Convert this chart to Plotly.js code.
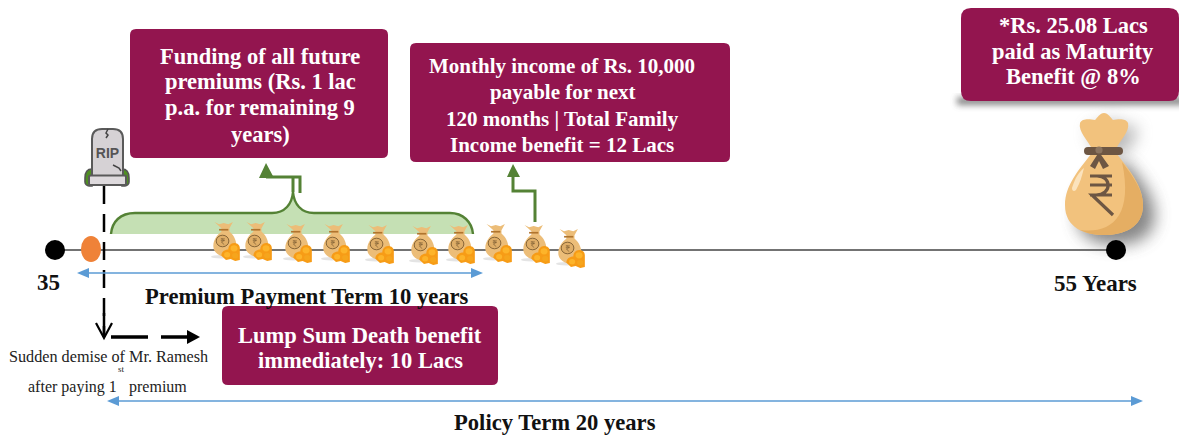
<!DOCTYPE html>
<html><head><meta charset="utf-8">
<script src="https://cdn.plot.ly/plotly-3.0.1.min.js"></script>
<style>html,body{margin:0;padding:0;background:#fff}#c{width:1179px;height:435px}</style></head>
<body><div id="c"></div>
<script>
const boxX=[130,410,961,222], boxY=[29,43,8,306], boxW=[258,320,218,276], boxH=[129,119,93,79];
const boxLines=[
 ["Funding of all future","premiums (Rs. 1 lac","p.a. for remaining 9","years)"],
 ["Monthly income of Rs. 10,000","payable for next","120 months | Total Family","Income benefit = 12 Lacs"],
 ["*Rs. 25.08 Lacs","paid as Maturity","Benefit @ 8%"],
 ["Lump Sum Death benefit","immediately: 10 Lacs"]];
const boxLineY=[[56,81,107,134],[66,92,119,145],[25,51,77],[335,360]];
const boxTextX=[260,562,1073,360];
const boxFont=[22.5,21,22.5,22.5];
const labels=["35","Premium Payment Term 10 years","55 Years","Policy Term 20 years"];
const labelX=[48,307,1095,555], labelY=[282,296,283,422];
const labelFont=[23,22.6,23,22.6];
const noteLines=["Sudden demise of Mr. Ramesh","after paying 1","st","premium"];
const noteX=[108,72.5,121,158], noteY=[357,387,369,387], noteSize=[16.2,16,9,16];
const bagX=[225,257,297,335,379,423,460,497,535,570];
const bagY=[241,241,243,243,244,245,244,243,244,248];
const timelineX=[55,1116], timelineY=[250,250];
const dotX=[55,1116], dotY=[250,250];
const deathX=[104,104], deathY=[186,337];
const lumpX=[111,200], lumpY=[337,337];
const spanStart=[77,107], spanEnd=[483,1143], spanY=[273,401];
const maroon="#93154f", green="#548235", blue="#5b9bd5";

function rr(x,y,w,h,r){return `M${x+r},${y}H${x+w-r}Q${x+w},${y} ${x+w},${y+r}V${y+h-r}Q${x+w},${y+h} ${x+w-r},${y+h}H${x+r}Q${x},${y+h} ${x},${y+h-r}V${y+r}Q${x},${y} ${x+r},${y}Z`;}
function svg(w,h,body){return "data:image/svg+xml;charset=utf-8,"+encodeURIComponent(`<svg xmlns="http://www.w3.org/2000/svg" width="${w}" height="${h}" viewBox="0 0 ${w} ${h}">${body}</svg>`);}

const smallBag=svg(26,38,`<defs><filter id="b"><feGaussianBlur stdDeviation="0.35"/></filter></defs><g filter="url(#b)">
<ellipse cx="9" cy="34" rx="9" ry="1.6" fill="#e4e4e4"/>
<path d="M3 1l4 2 4-1 4 1 4-2-3 6 0 3c3 3 6 7 6 14 0 6-5 10-9 10s-11-3-11-10c0-7 4-11 7-14l0-3z" fill="#ecbd78"/>
<rect x="7" y="7.5" width="8" height="1.6" fill="#b0742f"/>
<circle cx="10" cy="19" r="5.5" fill="#dfae68" stroke="#7a5a30" stroke-width=".8"/>
<path d="M8.5 17h3.5M8.5 18.6h3.5M9 17c2.5 0 2.5 3 0 3l2.5 2.5" fill="none" stroke="#7a5a30" stroke-width=".6"/>
<path d="M9 33c0-4 3-6 6-6 0-3 2-6 5-6 3 0 5 2 5 5v11l-4 1-4-2-4 1z" fill="#f79c17"/>
<circle cx="20" cy="26" r="3" fill="#fdb42b"/><circle cx="14" cy="32" r="2.6" fill="#fdb42b"/><circle cx="21" cy="33" r="2.6" fill="#f6a51e"/></g>`);
const bagBody="M42,53C30,68 15,85 15,105C15,128 35,135 54,135C73,135 93,128 93,105C93,85 78,68 66,53Z";
const bagTop="M54,13C50,13 47,18 45,20C40,19 32,18 30,23C28,32 38,40 42,49L66,49C70,40 80,32 78,23C76,18 68,19 63,20C61,18 58,13 54,13Z";
const bigBag=svg(130,175,`<defs><filter id="s" x="-50%" y="-50%" width="200%" height="200%"><feGaussianBlur stdDeviation="8"/></filter></defs>
<path d="${bagBody}" transform="translate(12,10)" fill="#555" opacity=".7" filter="url(#s)"/>
<path d="${bagTop}" transform="translate(9,6)" fill="#777" opacity=".5" filter="url(#s)"/>
<path d="${bagBody}" fill="#f2c27d"/><path d="${bagTop}" fill="#f2c27d"/>
<path d="M72,62C84,78 93,90 93,105C93,128 73,135 54,135C45,135 36,133 30,130C60,134 84,118 72,62Z" fill="#e5ae63"/>
<path d="M22,88C25,78 29,72 34,68C32,76 30,83 26,90C24,92 22,91 22,88Z" fill="#fbe3bd"/>
<rect x="34" y="47" width="39" height="8" rx="4" fill="#6d5643"/>
<path d="M49,52L40,66l5,3 4-8 4,8 6-3z" fill="#6d5643"/>
<circle cx="49" cy="50" r="3.6" fill="#8c7560"/>
<path d="M40,76H62M40,85H62M40,95H62M47,76C62,76 62,95 46,95L42,95L63,115" fill="none" stroke="#6d5643" stroke-width="3.2"/>`);
const rip=svg(46,60,`<path d="M1 50c0-6 3-9 7-9v17H5c-2 0-4-2-4-4zM45 50c0-6-3-9-7-9v17h3c2 0 4-2 4-4z" fill="#4f8f22" stroke="#555" stroke-width="1.6"/>
<path d="M8 50V11C8 4 12 1 18 1h11c6 0 10 3 10 10v39z" fill="#d6d2d5" stroke="#5a5a5a" stroke-width="2"/>
<rect x="5" y="47.5" width="37" height="9.5" rx="1.5" fill="#dedadd" stroke="#5a5a5a" stroke-width="2"/>
<text x="23.5" y="30" font-family="Liberation Sans" font-size="14" font-weight="bold" fill="#555" text-anchor="middle">RIP</text>
<path d="M24 1l-2 4 2 2-2 3" fill="none" stroke="#444" stroke-width="1.5"/>
<path d="M29 37l6 3 2 3" fill="none" stroke="#444" stroke-width="1.5"/>`);
const boxShadow=svg(240,30,`<defs><filter id="b" x="-10%" y="-100%" width="120%" height="300%"><feGaussianBlur stdDeviation="3"/></filter></defs><rect x="12" y="4" width="228" height="8" fill="#555" opacity=".7" filter="url(#b)"/>`);

const shapes=[];
const bracePath="M111,234C112,222 120,213 135,213H272C285,213 292,204 293,192C294,204 301,213 314,213H450C463,213 472,222 473,234";
shapes.push({type:'path',xref:'x',yref:'y',path:bracePath+"Z",fillcolor:"#c5e0b4",line:{width:0},layer:'below'});
shapes.push({type:'path',xref:'x',yref:'y',path:bracePath,line:{color:green,width:2.4}});
shapes.push({type:'path',xref:'x',yref:'y',path:"M293,192V177M300,193V177H266",line:{color:green,width:3}});
shapes.push({type:'path',xref:'x',yref:'y',path:"M266,163L274,178H259Z",fillcolor:green,line:{width:0}});
shapes.push({type:'path',xref:'x',yref:'y',path:"M535,222V191H513V176",line:{color:green,width:3}});
shapes.push({type:'path',xref:'x',yref:'y',path:"M513,164L520,177H507Z",fillcolor:green,line:{width:0}});
boxX.forEach((x,i)=>shapes.push({type:'path',xref:'x',yref:'y',path:rr(x,boxY[i],boxW[i],boxH[i],i==2?10:6),fillcolor:maroon,line:{width:0}}));
shapes.push({type:'line',xref:'x',yref:'y',x0:deathX[0],x1:deathX[1],y0:deathY[0],y1:deathY[1],line:{color:"#000",width:2.5,dash:"18px 10px"}});
shapes.push({type:'line',xref:'x',yref:'y',x0:deathX[0],x1:deathX[1],y0:313,y1:337,line:{color:"#000",width:2.5}});
shapes.push({type:'path',xref:'x',yref:'y',path:"M96,323L104,338L112,323",line:{color:"#000",width:2.2}});
shapes.push({type:'line',xref:'x',yref:'y',x0:lumpX[0],x1:lumpX[1]-8,y0:lumpY[0],y1:lumpY[1],line:{color:"#000",width:3.5,dash:"37px 13px"}});
shapes.push({type:'path',xref:'x',yref:'y',path:"M187,330L200,337L187,344Z",fillcolor:"#000",line:{width:0}});
spanStart.forEach((s,i)=>{const e=spanEnd[i],y=spanY[i];
 shapes.push({type:'line',xref:'x',yref:'y',x0:s+8,x1:e-8,y0:y,y1:y,line:{color:blue,width:1.5}});
 shapes.push({type:'path',xref:'x',yref:'y',path:`M${s},${y}L${s+12},${y-5}V${y+5}Z`,fillcolor:blue,line:{width:0}});
 shapes.push({type:'path',xref:'x',yref:'y',path:`M${e},${y}L${e-12},${y-5}V${y+5}Z`,fillcolor:blue,line:{width:0}});
});
shapes.push({type:'circle',xref:'x',yref:'y',x0:81,x1:101,y0:236,y1:262,fillcolor:"#ef8238",line:{width:0},layer:'above'});

const ann=[];
const serif="Liberation Serif, Times New Roman, serif";
boxLines.forEach((lines,i)=>lines.forEach((t,j)=>ann.push({x:boxTextX[i],y:boxLineY[i][j],text:t,showarrow:false,xanchor:'center',yanchor:'middle',font:{family:serif,size:boxFont[i],color:"#fff",weight:700}})));
labels.forEach((t,i)=>ann.push({x:labelX[i],y:labelY[i],text:t,showarrow:false,xanchor:'center',yanchor:'middle',font:{family:serif,size:labelFont[i],color:"#111",weight:700}}));
noteLines.forEach((t,i)=>ann.push({x:noteX[i],y:noteY[i],text:t,showarrow:false,xanchor:'center',yanchor:'middle',font:{family:serif,size:noteSize[i],color:"#222"}}));

const images=[
 {source:boxShadow,xref:'x',yref:'y',x:1065,y:108,sizex:240,sizey:30,xanchor:'center',yanchor:'middle',sizing:'stretch',layer:'below'},
 {source:bigBag,xref:'x',yref:'y',x:1115,y:187.5,sizex:130,sizey:175,xanchor:'center',yanchor:'middle',sizing:'stretch',layer:'below'},
 ...bagX.map((x,i)=>({source:smallBag,xref:'x',yref:'y',x:x+1,y:bagY[i],sizex:30,sizey:40,xanchor:'center',yanchor:'middle',sizing:'stretch',layer:'above'})),
 {source:rip,xref:'x',yref:'y',x:107,y:158,sizex:46,sizey:60,xanchor:'center',yanchor:'middle',sizing:'stretch',layer:'above'}
];

const traces=[
 {x:timelineX,y:timelineY,mode:'lines',line:{color:"#444",width:1.6},hoverinfo:'skip'},
 {x:dotX,y:dotY,mode:'markers',marker:{color:"#000",size:20},hoverinfo:'skip'}
];
Plotly.newPlot('c',traces,{
 width:1179,height:435,margin:{l:0,r:0,t:0,b:0},showlegend:false,
 paper_bgcolor:"#fff",plot_bgcolor:"#fff",
 xaxis:{range:[0,1179],visible:false,fixedrange:true},
 yaxis:{range:[435,0],visible:false,fixedrange:true},
 shapes,annotations:ann,images
},{staticPlot:true,displayModeBar:false});
</script></body></html>
